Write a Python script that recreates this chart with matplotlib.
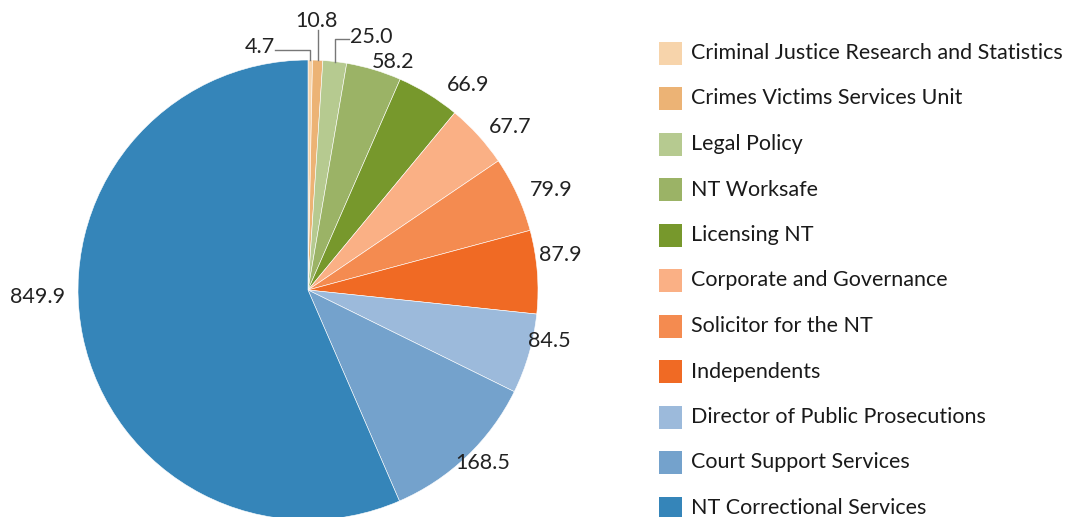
import numpy as np
import matplotlib
matplotlib.use("Agg")
import matplotlib.pyplot as plt
from matplotlib.patches import Rectangle

plt.rcParams['font.family'] = ['Lato', 'DejaVu Sans']

categories = [
    "Criminal Justice Research and Statistics",
    "Crimes Victims Services Unit",
    "Legal Policy",
    "NT Worksafe",
    "Licensing NT",
    "Corporate and Governance",
    "Solicitor for the NT",
    "Independents",
    "Director of Public Prosecutions",
    "Court Support Services",
    "NT Correctional Services",
]
values = [4.7, 10.8, 25.0, 58.2, 66.9, 67.7, 79.9, 87.9, 84.5, 168.5, 849.9]
value_labels = ["4.7", "10.8", "25.0", "58.2", "66.9", "67.7", "79.9", "87.9", "84.5", "168.5", "849.9"]
colors = ["#F7D4AB", "#ECB375", "#B6CA90", "#9BB366", "#77982C", "#FAB085",
          "#F48B50", "#F06A24", "#9CBADB", "#74A2CC", "#3585B9"]

# layout (pixel coordinates, y measured from top)
W, H = 1065, 517
cx, cy, R = 308, 290, 230
label_pos = [(260, 47), (316, 21), (371, 37), (393, 62), (468, 85), (510, 127),
             (551, 190), (560, 255), (549, 341), (483, 463), (38, 297)]
leader = {0: ('h', 50), 1: ('v', 30), 2: ('h', 39)}

fig = plt.figure(figsize=(W / 100, H / 100), dpi=100)
ax = fig.add_axes([0, 0, 1, 1])
wedges, _ = ax.pie(values, colors=colors, startangle=90, counterclock=False,
                   center=(cx, H - cy), radius=R,
                   wedgeprops=dict(edgecolor='white', linewidth=0.4))
ax.set_xlim(0, W)
ax.set_ylim(0, H)
ax.set_aspect('equal')
ax.axis('off')

total = sum(values)
cum = 0.0
for i, v in enumerate(values):
    mid = (cum + v / 2) / total * 2 * np.pi
    cum += v
    ex = cx + R * np.sin(mid)
    ey = cy - R * np.cos(mid)
    lx, ly = label_pos[i]
    if i in leader:
        kind, yy = leader[i]
        if kind == 'h':
            if lx < ex:
                xs = [lx + 15, ex, ex]
            else:
                xs = [lx - 22, ex, ex]
            ys = [yy, yy, ey]
        else:
            xs = [ex, ex]
            ys = [yy, ey]
        ax.plot(xs, [H - y for y in ys], color='#777777', lw=1)
    ax.text(lx, H - ly, value_labels[i], ha='center', va='center', fontsize=15.5, color='#222222')

# legend
for i, name in enumerate(categories):
    ry = 53 + i * 45.5
    ax.add_patch(Rectangle((659, H - ry - 11.5), 23, 23, facecolor=colors[i], edgecolor='none'))
    ax.text(691, H - ry, name, ha='left', va='center', fontsize=15.45, color='#1a1a1a')

fig.savefig('out.png', dpi=100)
